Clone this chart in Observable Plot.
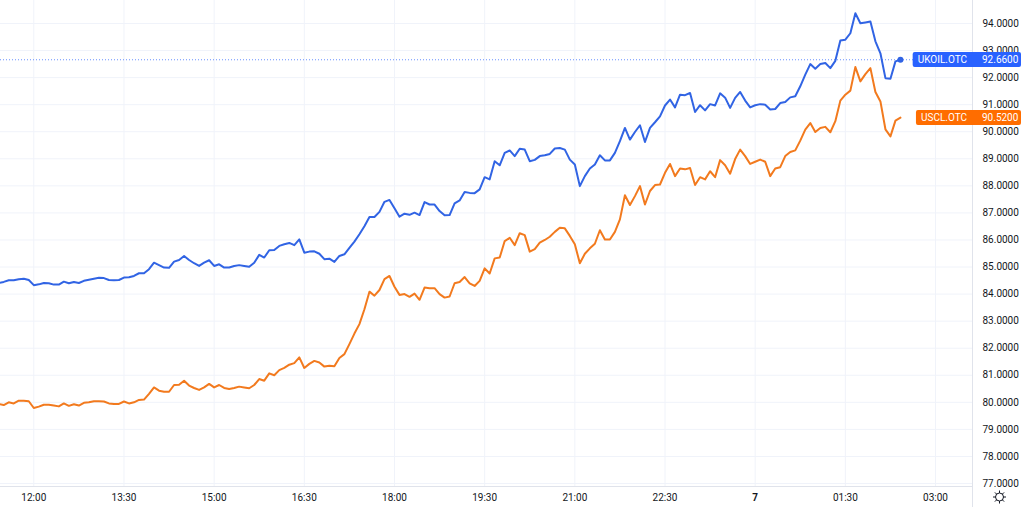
<!DOCTYPE html>
<html>
<head>
<meta charset="utf-8">
<script src="https://cdn.jsdelivr.net/npm/d3@7"></script>
<script src="https://cdn.jsdelivr.net/npm/@observablehq/plot@0.6"></script>
<style>
  html, body { margin: 0; padding: 0; background: #ffffff; overflow: hidden; }
  #chart svg { display: block; }
</style>
</head>
<body>
<div id="chart"></div>
<script>
// ---------------- data ----------------
const seriesNames = ["UKOIL.OTC", "USCL.OTC"];
const firstTime = "2022-03-06T11:25:00Z";   // first sample, 5-minute bars
const stepMinutes = 5;

const ukoil = [
  84.41, 84.45, 84.51, 84.51, 84.55, 84.57, 84.52, 84.33, 84.36, 84.41,
  84.40, 84.35, 84.35, 84.46, 84.40, 84.45, 84.41, 84.49, 84.53, 84.57,
  84.60, 84.59, 84.52, 84.51, 84.52, 84.61, 84.62, 84.67, 84.77, 84.77,
  84.92, 85.16, 85.07, 84.98, 84.97, 85.20, 85.26, 85.41, 85.26, 85.14,
  85.04, 85.16, 85.25, 85.04, 85.10, 84.98, 84.98, 85.04, 85.07, 85.04,
  85.01, 85.16, 85.45, 85.35, 85.62, 85.63, 85.78, 85.84, 85.89, 85.81,
  86.02, 85.53, 85.57, 85.58, 85.49, 85.29, 85.31, 85.19, 85.41, 85.47,
  85.71, 85.94, 86.21, 86.51, 86.85, 86.85, 87.04, 87.41, 87.48, 87.17,
  86.86, 86.97, 86.93, 87.01, 86.92, 87.40, 87.31, 87.31, 87.07, 86.91,
  86.92, 87.35, 87.46, 87.77, 87.74, 87.73, 87.87, 88.32, 88.24, 88.91,
  88.76, 89.22, 89.31, 89.10, 89.37, 89.34, 88.91, 88.96, 89.10, 89.13,
  89.18, 89.38, 89.40, 89.34, 88.97, 88.79, 87.99, 88.36, 88.64, 88.79,
  89.13, 88.94, 88.94, 89.22, 89.65, 90.14, 89.71, 89.99, 90.24, 89.62,
  90.14, 90.35, 90.57, 90.97, 91.19, 90.90, 91.37, 91.35, 91.43, 90.73,
  90.98, 90.79, 91.02, 90.97, 91.42, 91.26, 90.88, 91.25, 91.47, 91.15,
  90.90, 90.98, 91.02, 91.00, 90.82, 90.84, 91.06, 91.10, 91.27, 91.31,
  91.68, 92.11, 92.50, 92.33, 92.50, 92.54, 92.35, 92.62, 93.37, 93.40,
  93.64, 94.38, 94.01, 94.04, 94.07, 93.34, 92.90, 91.98, 91.96, 92.60,
  92.66
];

const uscl = [
  79.94, 79.90, 80.00, 79.96, 80.06, 80.06, 80.04, 79.79, 79.84, 79.91,
  79.91, 79.88, 79.85, 79.96, 79.87, 79.93, 79.88, 79.98, 80.00, 80.04,
  80.04, 80.03, 79.96, 79.94, 79.94, 80.03, 79.96, 80.00, 80.09, 80.10,
  80.31, 80.55, 80.43, 80.39, 80.39, 80.64, 80.65, 80.80, 80.62, 80.53,
  80.46, 80.55, 80.68, 80.55, 80.64, 80.53, 80.49, 80.53, 80.58, 80.55,
  80.52, 80.64, 80.86, 80.80, 81.07, 81.00, 81.19, 81.27, 81.39, 81.45,
  81.66, 81.27, 81.42, 81.53, 81.47, 81.32, 81.35, 81.33, 81.64, 81.78,
  82.15, 82.54, 82.89, 83.44, 84.09, 83.94, 84.15, 84.55, 84.67, 84.27,
  83.97, 84.00, 83.90, 84.02, 83.79, 84.24, 84.22, 84.22, 84.00, 83.87,
  83.91, 84.40, 84.45, 84.63, 84.40, 84.30, 84.49, 84.95, 84.76, 85.32,
  85.35, 85.96, 86.08, 85.81, 86.25, 86.18, 85.57, 85.66, 85.90, 86.00,
  86.12, 86.30, 86.45, 86.43, 86.15, 85.84, 85.14, 85.49, 85.69, 85.86,
  86.36, 86.02, 86.02, 86.30, 86.76, 87.65, 87.29, 87.62, 87.99, 87.31,
  87.81, 88.03, 88.05, 88.48, 88.81, 88.36, 88.64, 88.61, 88.66, 88.03,
  88.32, 88.24, 88.54, 88.32, 88.95, 88.76, 88.45, 88.99, 89.34, 89.10,
  88.81, 88.89, 88.97, 88.89, 88.36, 88.64, 88.69, 89.10, 89.25, 89.31,
  89.67, 90.08, 90.32, 89.99, 90.14, 90.18, 89.98, 90.39, 91.15, 91.37,
  91.52, 92.39, 91.86, 92.13, 92.35, 91.47, 91.12, 90.09, 89.83, 90.41,
  90.52
];

const priceTicks = [77, 78, 79, 80, 81, 82, 83, 84, 85, 86, 87, 88, 89, 90, 91, 92, 93, 94];
const timeTicks = [
  "2022-03-06T12:00:00Z", "2022-03-06T13:30:00Z", "2022-03-06T15:00:00Z",
  "2022-03-06T16:30:00Z", "2022-03-06T18:00:00Z", "2022-03-06T19:30:00Z",
  "2022-03-06T21:00:00Z", "2022-03-06T22:30:00Z", "2022-03-07T00:00:00Z",
  "2022-03-07T01:30:00Z", "2022-03-07T03:00:00Z"
];
const timeTickLabels = ["12:00", "13:30", "15:00", "16:30", "18:00", "19:30", "21:00", "22:30", "7", "01:30", "03:00"];
const dayTickLabels = ["7"];
const xDomain = ["2022-03-06T11:26:46Z", "2022-03-07T03:36:54Z"];
const yDomain = [76.889, 94.85];

// ---------------- styles ----------------
const lineColors = ["#3164e4", "#f27a1e"];
const labelColors = ["#2962ff", "#ff6d00"];
const gridColor = "#f0f3fa";
const borderColor = "#e0e3eb";
const textColor = "#131722";
const fontFamily = "Roboto, 'Noto Sans', sans-serif";

// ---------------- build ----------------
const t0 = new Date(firstTime).getTime();
const seriesValues = [ukoil, uscl];
const rows = [];
seriesValues.forEach((vals, s) => {
  vals.forEach((v, i) => rows.push({series: seriesNames[s], t: new Date(t0 + i * stepMinutes * 60000), v}));
});
const lastRows = seriesValues.map((vals, s) => rows.filter(r => r.series === seriesNames[s]).slice(-1)[0]);

const tickDates = timeTicks.map(d => new Date(d));
const labelByTime = new Map(tickDates.map((d, i) => [d.getTime(), timeTickLabels[i]]));
const normalTicks = tickDates.filter((d, i) => !dayTickLabels.includes(timeTickLabels[i]));
const dayTicks = tickDates.filter((d, i) => dayTickLabels.includes(timeTickLabels[i]));

function overlay(index, scales, values, dims) {
  const {width, height, marginRight, marginBottom} = dims;
  const xr = width - marginRight;
  const yb = height - marginBottom;
  const g = d3.create("svg:g").attr("class", "tv-overlay");
  g.append("line").attr("x1", 0).attr("x2", xr).attr("y1", yb + 0.5).attr("y2", yb + 0.5)
    .attr("stroke", borderColor);
  g.append("line").attr("x1", xr + 0.5).attr("x2", xr + 0.5).attr("y1", 0).attr("y2", height)
    .attr("stroke", borderColor);
  // price labels for the last values
  lastRows.forEach((r, s) => {
    const y = Math.round(scales.y(r.v)) + 0.5;
    const lg = g.append("g").attr("class", "tv-label");
    lg.append("rect").attr("class", "name-box").attr("x", xr - 58).attr("y", y - 7.5)
      .attr("width", width - 3 - (xr - 58)).attr("height", 15).attr("rx", 2)
      .attr("fill", labelColors[s]);
    lg.append("text").attr("class", "name-text").attr("x", xr - 5).attr("y", y)
      .attr("dy", "0.35em").attr("text-anchor", "end").attr("fill", "#ffffff")
      .attr("font-size", 10).text(r.series);
    lg.append("text").attr("x", xr + 10).attr("y", y)
      .attr("dy", "0.35em").attr("text-anchor", "start").attr("fill", "#ffffff").attr("font-size", 10)
      .text(r.v.toFixed(4));
  });
  // settings icon
  const ic = g.append("g").attr("transform", `translate(${xr + 27.5},${yb + 11})`)
    .attr("stroke", textColor).attr("fill", "none").attr("stroke-width", 1);
  ic.append("circle").attr("r", 4);
  for (let a = 0; a < 8; a++) {
    const ang = a * Math.PI / 4;
    ic.append("line").attr("x1", Math.cos(ang) * 4).attr("y1", Math.sin(ang) * 4)
      .attr("x2", Math.cos(ang) * 6.5).attr("y2", Math.sin(ang) * 6.5);
  }
  return g.node();
}

const chart = Plot.plot({
  width: 1024,
  height: 507,
  marginLeft: 0,
  marginRight: 52,
  marginTop: 0,
  marginBottom: 21,
  style: {fontFamily, fontSize: "10px", color: textColor, background: "#ffffff"},
  x: {type: "utc", domain: xDomain.map(d => new Date(d)), label: null},
  y: {domain: yDomain, label: null},
  marks: [
    Plot.gridY(priceTicks, {stroke: gridColor, strokeOpacity: 1}),
    Plot.gridX(tickDates, {stroke: gridColor, strokeOpacity: 1}),
    Plot.ruleY([lastRows[0]], {y: "v", stroke: labelColors[0], strokeDasharray: "1,2", strokeOpacity: 0.7}),
    Plot.line(rows.filter(r => r.series === seriesNames[0]), {x: "t", y: "v", stroke: lineColors[0], strokeWidth: 2, clip: true}),
    Plot.line(rows.filter(r => r.series === seriesNames[1]), {x: "t", y: "v", stroke: lineColors[1], strokeWidth: 2, clip: true}),
    Plot.dot([lastRows[0]], {x: "t", y: "v", r: 3, fill: lineColors[0]}),
    Plot.axisY(priceTicks, {anchor: "right", tickSize: 0, tickPadding: 10, tickFormat: d => d.toFixed(4), fill: textColor, label: null}),
    Plot.axisX(normalTicks, {anchor: "bottom", tickSize: 0, tickPadding: 7, tickFormat: d => labelByTime.get(d.getTime()), fill: textColor, label: null}),
    Plot.axisX(dayTicks, {anchor: "bottom", tickSize: 0, tickPadding: 7, tickFormat: d => labelByTime.get(d.getTime()), fill: textColor, fontWeight: "bold", label: null}),
    overlay
  ]
});

document.getElementById("chart").append(chart);

// size the name part of each label box to its text
document.querySelectorAll(".tv-label").forEach(lg => {
  const txt = lg.querySelector(".name-text");
  const rect = lg.querySelector(".name-box");
  const w = txt.getComputedTextLength();
  const x = +txt.getAttribute("x") - w - 5;
  const right = +rect.getAttribute("x") + +rect.getAttribute("width");
  rect.setAttribute("x", x);
  rect.setAttribute("width", right - x);
});
</script>
</body>
</html>
